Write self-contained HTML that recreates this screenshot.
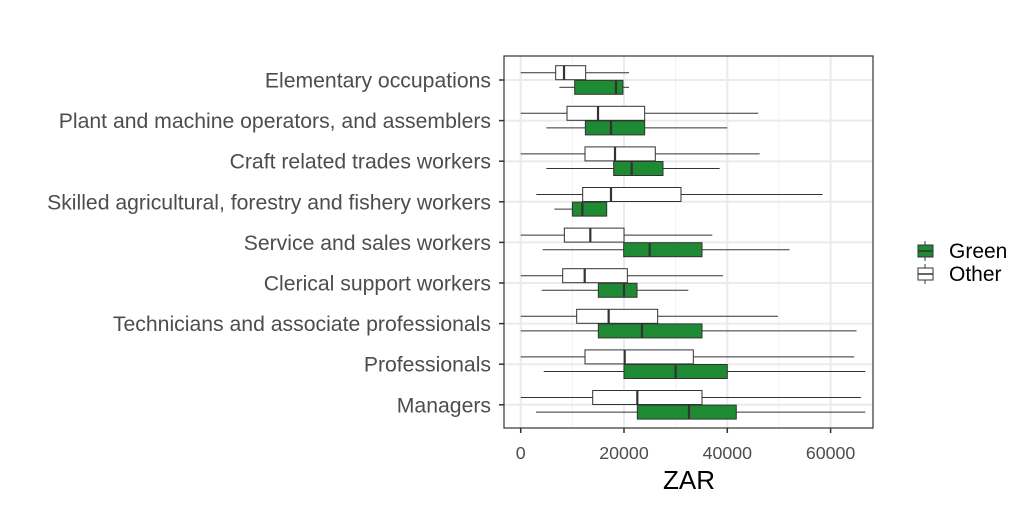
<!DOCTYPE html>
<html><head><meta charset="utf-8"><style>
body{margin:0;background:#fff;}
svg text{font-family:"Liberation Sans",Arial,sans-serif;}
</style></head><body>
<svg id="chart" width="1036" height="506" xmlns="http://www.w3.org/2000/svg"></svg>
<script>
const categories=["Elementary occupations","Plant and machine operators, and assemblers","Craft related trades workers","Skilled agricultural, forestry and fishery workers","Service and sales workers","Clerical support workers","Technicians and associate professionals","Professionals","Managers"];
// [min, q1, median, q3, max]
const otherStats=[[0,6770,8390,12580,20970],[0,8970,14970,24000,46000],[0,12450,18260,26060,46260],[3030,12000,17480,31030,58450],[0,8450,13480,20000,37100],[0,8130,12390,20650,39160],[0,10840,17030,26520,49810],[0,12450,20130,33420,64580],[0,13940,22580,35100,65870]];
const greenStats=[[7480,10450,18450,19800,20970],[4970,12520,17480,24000,40000],[4970,18000,21480,27550,38520],[6520,10000,11940,16650,16650],[4260,19940,24970,35100,52060],[4060,15030,20000,22520,32450],[0,15030,23480,35100,65030],[4450,20000,30000,40000,66710],[2970,22580,32580,41740,66710]];
const xTicks=[0,20000,40000,60000];
const xMinor=[10000,30000,50000];

const NS="http://www.w3.org/2000/svg";
const svg=document.getElementById('chart');
const L=504,R=873,T=56,B=428;
const x=v=>520.7+v*103.3/20000;
const y=i=>80+i*40.6;
function el(t,a,p){const e=document.createElementNS(NS,t);for(const k in a)e.setAttribute(k,a[k]);(p||svg).appendChild(e);return e;}
const panel=el('g',{});


xMinor.forEach(v=>{const g=el('line',{x1:x(v),x2:x(v),y1:T,y2:B,stroke:'#f2f2f2','stroke-width':1},panel);});
xTicks.forEach(v=>{const g=el('line',{x1:x(v),x2:x(v),y1:T,y2:B,stroke:'#ebebeb','stroke-width':2},panel);});
categories.forEach((c,i)=>{const g=el('line',{x1:L,x2:R,y1:y(i),y2:y(i),stroke:'#ebebeb','stroke-width':2},panel);});
function box(s,cy,fill,name){
  const g=el('g',{},panel);
  
  
  el('line',{x1:x(s[0]),x2:x(s[1]),y1:cy,y2:cy,stroke:'#333','stroke-width':1},g);
  el('line',{x1:x(s[3]),x2:x(s[4]),y1:cy,y2:cy,stroke:'#333','stroke-width':1},g);
  el('rect',{x:x(s[1]),y:cy-7,width:x(s[3])-x(s[1]),height:14,fill:fill,stroke:'#333','stroke-width':1},g);
  el('line',{x1:x(s[2]),x2:x(s[2]),y1:cy-7,y2:cy+7,stroke:'#333','stroke-width':2.2},g);
}
categories.forEach((c,i)=>{
  box(otherStats[i],y(i)-7.3,'#fff','box-other');
  box(greenStats[i],y(i)+7.3,'#1e8a33','box-green');
  const t=el('text',{x:491,y:y(i)+7.5,'text-anchor':'end','font-size':21.2,fill:'#4d4d4d'});t.textContent=c;
  
  el('line',{x1:499,x2:504,y1:y(i),y2:y(i),stroke:'#333','stroke-width':1.5});
});
const fr=el('rect',{x:L,y:T,width:R-L,height:B-T,fill:'none',stroke:'#333','stroke-width':1.2});

xTicks.forEach(v=>{
  el('line',{x1:x(v),x2:x(v),y1:B,y2:B+5,stroke:'#333','stroke-width':1.5});
  const t=el('text',{x:x(v),y:459,'text-anchor':'middle','font-size':17.8,fill:'#4d4d4d'});t.textContent=v;
  
});
const xt=el('text',{x:689,y:489,'text-anchor':'middle','font-size':26,fill:'#000'});xt.textContent='ZAR';

[['Green','#1e8a33',251],['Other','#fff',274]].forEach(([n,f,cy])=>{
  const g=el('g',{});
  el('line',{x1:925,x2:925,y1:cy-10,y2:cy+10,stroke:'#333','stroke-width':1},g);
  el('rect',{x:918,y:cy-6,width:15,height:12,fill:f,stroke:'#333','stroke-width':1},g);
  el('line',{x1:918,x2:933,y1:cy,y2:cy,stroke:'#333','stroke-width':1.5},g);
  const t=el('text',{x:949,y:cy+7,'font-size':21,fill:'#000'},g);t.textContent=n;
});
</script>
</body></html>
